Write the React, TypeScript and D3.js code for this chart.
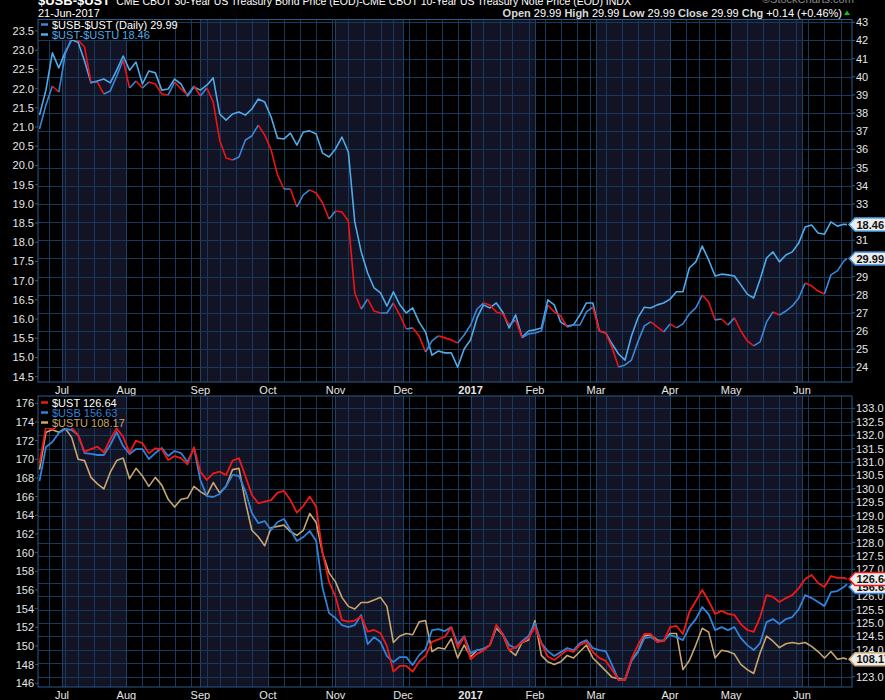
import React from "react";
import * as d3 from "d3";

// ---------- calendar ----------
const HOLIDAYS = ["2016-07-04", "2016-09-05", "2016-11-24", "2016-12-26", "2017-01-02", "2017-01-16", "2017-02-20", "2017-04-14", "2017-05-29"];
const START_DATE = "2016-06-22";
const END_DATE = "2017-06-21";
const monthLabels = ["Jul", "Aug", "Sep", "Oct", "Nov", "Dec", "2017", "Feb", "Mar", "Apr", "May", "Jun"];
const shadedMonths = [6, 8, 10, 0, 2, 4];

// ---------- tick labels ----------
const topLeftTicks = [14.5, 15.0, 15.5, 16.0, 16.5, 17.0, 17.5, 18.0, 18.5, 19.0, 19.5, 20.0, 20.5, 21.0, 21.5, 22.0, 22.5, 23.0, 23.5];
const topRightTicks = [24, 25, 26, 27, 28, 29, 30, 31, 32, 33, 34, 35, 36, 37, 38, 39, 40, 41, 42, 43];
const botLeftTicks = [146, 148, 150, 152, 154, 156, 158, 160, 162, 164, 166, 168, 170, 172, 174, 176];
const botRightTicks = [123.0, 123.5, 124.0, 124.5, 125.0, 125.5, 126.0, 126.5, 127.0, 127.5, 128.0, 128.5, 129.0, 129.5, 130.0, 130.5, 131.0, 131.5, 132.0, 132.5, 133.0];

// ---------- series (every 2nd trading day, last = final day) ----------
const usbUst = [37.12, 38.45, 39.49, 39.16, 41.25, 42.14, 42.03, 41.64, 39.71, 39.71,
  39.05, 39.22, 40.04, 40.92, 39.38, 39.77, 39.38, 39.71, 39.60, 39.05,
  39.00, 39.71, 39.33, 39.00, 39.49, 38.94, 39.38, 38.61, 36.52, 35.53,
  35.42, 35.58, 36.52, 36.74, 37.34, 36.79, 35.97, 34.59, 33.82, 33.82,
  32.83, 33.49, 33.77, 33.60, 33.05, 32.17, 32.61, 32.55, 32.06, 28.09,
  27.21, 27.76, 27.10, 26.99, 26.99, 27.54, 26.88, 26.11, 26.17, 25.73,
  24.84, 25.45, 25.73, 25.62, 25.51, 25.34, 25.78, 26.33, 27.21, 27.54,
  27.43, 27.05, 26.94, 26.33, 26.61, 25.62, 25.84, 25.89, 26.00, 27.43,
  27.05, 26.83, 26.22, 26.33, 26.33, 27.05, 27.32, 26.00, 25.89, 25.07,
  24.02, 24.13, 24.40, 25.40, 26.28, 26.50, 26.22, 25.95, 26.39, 26.17,
  26.39, 26.94, 27.27, 27.98, 27.60, 26.61, 26.66, 26.33, 26.72, 26.00,
  25.45, 25.18, 25.40, 26.50, 27.05, 26.88, 27.10, 27.38, 27.82, 28.64,
  28.48, 28.20, 28.04, 29.09, 29.31, 29.85, 29.99];

const ustUstu = [21.31, 21.96, 22.93, 22.54, 22.95, 23.27, 23.21, 22.72, 22.15, 22.20,
  22.25, 22.15, 22.48, 22.85, 22.48, 22.69, 22.12, 22.46, 22.41, 21.96,
  21.99, 22.25, 22.12, 21.81, 22.04, 21.96, 22.09, 22.28, 21.34, 21.18,
  21.34, 21.39, 21.31, 21.47, 21.73, 21.65, 21.26, 20.71, 20.69, 20.84,
  20.53, 20.87, 20.90, 20.82, 20.32, 20.22, 20.43, 20.74, 20.35, 18.53,
  17.75, 17.20, 16.81, 16.68, 16.34, 16.71, 16.37, 16.16, 16.29, 15.92,
  15.66, 15.06, 15.17, 15.12, 15.12, 14.75, 15.22, 15.46, 16.03, 16.37,
  16.29, 16.42, 16.18, 15.77, 16.11, 15.53, 15.69, 15.72, 15.77, 16.50,
  16.37, 15.92, 15.82, 15.85, 16.11, 16.42, 16.42, 15.69, 15.64, 15.35,
  15.09, 14.93, 15.56, 16.03, 16.31, 16.29, 16.37, 16.42, 16.52, 16.71,
  16.71, 17.33, 17.49, 17.90, 17.54, 17.12, 17.17, 17.15, 17.12, 16.89,
  16.65, 16.55, 17.04, 17.59, 17.75, 17.49, 17.67, 17.75, 17.98, 18.40,
  18.45, 18.24, 18.21, 18.53, 18.42, 18.47, 18.46];

const ust = [130.95, 132.29, 132.22, 132.34, 132.45, 132.27, 132.01, 131.38, 131.48, 131.57,
  131.36, 131.85, 132.25, 131.94, 131.35, 131.79, 131.70, 131.32, 131.51, 131.48,
  131.07, 131.22, 131.14, 130.91, 131.55, 130.64, 130.33, 130.58, 130.64, 130.51,
  131.05, 131.14, 130.48, 129.77, 129.46, 129.52, 129.58, 129.86, 129.92, 129.58,
  129.11, 129.36, 129.71, 129.33, 127.60, 126.54, 125.98, 125.11, 125.05, 125.09,
  125.24, 124.68, 124.74, 124.62, 124.14, 123.19, 123.40, 123.40, 123.19, 123.56,
  123.77, 124.30, 124.39, 124.49, 124.84, 124.07, 124.49, 123.65, 123.85, 123.97,
  124.18, 124.93, 124.59, 123.99, 124.10, 124.27, 124.43, 124.86, 124.24, 123.75,
  123.62, 123.81, 123.99, 123.92, 124.18, 124.29, 123.92, 123.70, 123.59, 123.25,
  122.88, 122.88, 123.66, 124.18, 124.59, 124.59, 124.29, 124.33, 124.85, 124.89,
  124.59, 125.41, 125.82, 126.23, 125.82, 125.34, 125.45, 125.34, 125.30, 124.96,
  124.74, 124.67, 125.22, 126.04, 125.97, 125.78, 125.93, 126.04, 126.30, 126.64,
  126.79, 126.49, 126.34, 126.75, 126.68, 126.68, 126.64];

const usb = [167.67, 171.32, 171.85, 172.82, 173.25, 173.14, 172.60, 170.67, 170.57, 170.46,
  170.46, 171.53, 172.92, 171.42, 170.57, 171.10, 171.10, 170.03, 170.67, 171.21,
  170.35, 170.89, 170.67, 169.71, 171.21, 167.78, 166.06, 165.96, 166.28, 167.14,
  168.32, 168.21, 166.60, 164.24, 163.17, 163.38, 162.42, 163.28, 163.60, 162.42,
  161.24, 161.67, 162.31, 161.24, 156.20, 153.52, 152.99, 152.24, 152.02, 152.24,
  153.31, 150.20, 150.95, 150.42, 148.92, 148.27, 148.81, 148.81, 147.95, 149.02,
  149.67, 151.70, 151.81, 151.60, 152.02, 150.20, 151.06, 149.24, 149.56, 149.67,
  150.09, 152.13, 151.27, 150.09, 149.77, 150.52, 151.06, 152.45, 150.31, 149.45,
  148.92, 149.34, 149.77, 149.56, 150.31, 150.63, 149.77, 149.56, 149.45, 147.95,
  146.34, 146.45, 148.38, 149.34, 150.84, 150.95, 150.52, 150.63, 151.17, 150.95,
  150.63, 152.02, 152.88, 154.17, 153.42, 151.70, 152.02, 151.70, 152.02, 150.84,
  150.09, 149.56, 150.31, 152.56, 152.88, 152.35, 152.88, 153.10, 153.95, 155.45,
  155.13, 154.70, 154.27, 155.77, 155.88, 156.31, 156.63];

const ustu = [109.64, 109.93, 109.95, 109.93, 109.96, 109.89, 109.72, 109.71, 109.58, 109.53,
  109.49, 109.62, 109.71, 109.73, 109.57, 109.65, 109.59, 109.51, 109.58, 109.52,
  109.41, 109.35, 109.41, 109.42, 109.51, 109.47, 109.44, 109.54, 109.46, 109.51,
  109.64, 109.65, 109.39, 109.17, 109.12, 109.05, 109.19, 109.20, 109.21, 109.16,
  109.13, 109.17, 109.30, 109.23, 108.99, 108.84, 108.77, 108.65, 108.58, 108.56,
  108.61, 108.61, 108.63, 108.65, 108.58, 108.30, 108.35, 108.37, 108.36, 108.46,
  108.47, 108.23, 108.26, 108.25, 108.33, 108.18, 108.28, 108.19, 108.24, 108.25,
  108.28, 108.41, 108.36, 108.24, 108.20, 108.30, 108.32, 108.47, 108.20, 108.15,
  108.13, 108.15, 108.20, 108.18, 108.23, 108.28, 108.18, 108.13, 108.08, 108.03,
  108.02, 108.01, 108.16, 108.23, 108.35, 108.36, 108.32, 108.31, 108.37, 108.37,
  108.09, 108.16, 108.28, 108.41, 108.38, 108.18, 108.24, 108.23, 108.21, 108.13,
  108.09, 108.06, 108.22, 108.35, 108.31, 108.26, 108.29, 108.30, 108.29, 108.30,
  108.27, 108.23, 108.18, 108.23, 108.17, 108.18, 108.17];

// ---------- styling ----------
const C = {
  bg: "#000000",
  band: "#131326",
  grid: "#183a5a",
  gridMonth: "#1d4368",
  border: "#2a5a88",
  text: "#e6e6e6",
  mainBlue: "#3a86d8",
  mainRed: "#f21212",
  overlay: "#4faaea",
  ust: "#f21818",
  usb: "#3182d9",
  ustu: "#c9a56f",
};
const FONT = "'Liberation Sans', Arial, sans-serif";

const TOP = { x0: 38, x1: 852, y0: 19.5, y1: 382 };
const BOT = { x0: 38, x1: 852, y0: 396, y1: 687 };

function tradingDays(): Date[] {
  const fmt = d3.timeFormat("%Y-%m-%d");
  const parse = d3.timeParse("%Y-%m-%d");
  const out: Date[] = [];
  const d = parse(START_DATE) as Date;
  const end = parse(END_DATE) as Date;
  while (d <= end) {
    const wd = d.getDay();
    if (wd !== 0 && wd !== 6 && !HOLIDAYS.includes(fmt(d))) out.push(new Date(d));
    d.setDate(d.getDate() + 1);
  }
  return out;
}

function ValueBox({ y, text, border }: { y: number; text: string; border: string }) {
  const h = 6.5;
  const pts = `849,${y} 855,${y - h} 890,${y - h} 890,${y + h} 855,${y + h}`;
  return (
    <g>
      <polygon points={pts} fill="#ececec" stroke={border} strokeWidth={1.5} />
      <text x={856.5} y={y + 4} fontSize={11} fontWeight="bold" fill="#111" fontFamily={FONT}>{text}</text>
    </g>
  );
}

export default function App() {
  const days = tradingDays();
  const n = days.length;
  const x = d3.scaleLinear().domain([0, n - 1]).range([39.5, 847]);
  const sampleIdx = usbUst.map((_, k) => (k === usbUst.length - 1 ? n - 1 : k * 2));

  const yTopR = d3.scaleLinear().domain([24, 43]).range([367.3, 22.3]);
  const yTopL = d3.scaleLinear().domain([14.5, 23.5]).range([376.7, 31]);
  const yBotL = d3.scaleLinear().domain([146, 176]).range([683.3, 403.3]);
  const yBotR = d3.scaleLinear().domain([123, 133]).range([676.7, 408.3]);
  const yUstu = d3.scaleLinear().domain([108, 110]).range([681.2, 423.2]);

  // month & week starts
  const monthStarts: number[] = [];
  const weekStarts: number[] = [];
  for (let i = 1; i < n; i++) {
    if (days[i].getMonth() !== days[i - 1].getMonth()) monthStarts.push(i);
    if (+d3.timeMonday.floor(days[i]) !== +d3.timeMonday.floor(days[i - 1])) weekStarts.push(i);
  }

  const bands = monthStarts.map((i, j) => {
    const xs = x(i);
    const xe = j + 1 < monthStarts.length ? x(monthStarts[j + 1]) : TOP.x1;
    const shaded = shadedMonths.includes(days[i].getMonth());
    return { xs, xe, shaded };
  });

  const lineGen = (ys: d3.ScaleLinear<number, number>, vals: number[]) =>
    d3.line<number>().x((_, k) => x(sampleIdx[k])).y((v) => ys(v))(vals) || "";

  // main line colored by direction
  const runs: { color: string; pts: [number, number][] }[] = [];
  for (let k = 1; k < usbUst.length; k++) {
    const color = usbUst[k] < usbUst[k - 1] ? C.mainRed : C.mainBlue;
    const p0: [number, number] = [x(sampleIdx[k - 1]), yTopR(usbUst[k - 1])];
    const p1: [number, number] = [x(sampleIdx[k]), yTopR(usbUst[k])];
    const last = runs[runs.length - 1];
    if (last && last.color === color) last.pts.push(p1);
    else runs.push({ color, pts: [p0, p1] });
  }
  const pathOf = d3.line<[number, number]>();

  // last-value boxes
  const topBoxes = [
    { y: yTopL(ustUstu[ustUstu.length - 1]), text: "18.46", border: C.overlay },
    { y: yTopR(usbUst[usbUst.length - 1]), text: "29.99", border: C.mainBlue },
  ];
  const botBoxes = [
    { y: yBotL(usb[usb.length - 1]) + 3, text: "156.63", border: C.usb },
    { y: yBotR(ust[ust.length - 1]), text: "126.64", border: C.ust },
    { y: yUstu(ustu[ustu.length - 1]), text: "108.17", border: C.ustu },
  ];
  const freeOf = (boxes: { y: number }[], yy: number) => boxes.every((b) => Math.abs(b.y - yy) > 9);

  const panelBg = (P: typeof TOP, key: string) => (
    <g key={key}>
      {bands.filter((b) => b.shaded).map((b, i) => (
        <rect key={i} x={b.xs} y={P.y0} width={b.xe - b.xs} height={P.y1 - P.y0} fill={C.band} />
      ))}
      {weekStarts.map((i) => (
        <line key={"w" + i} x1={Math.round(x(i)) + 0.5} x2={Math.round(x(i)) + 0.5} y1={P.y0} y2={P.y1} stroke={C.grid} strokeWidth={1} />
      ))}
      {monthStarts.map((i) => (
        <line key={"m" + i} x1={Math.round(x(i)) + 0.5} x2={Math.round(x(i)) + 0.5} y1={P.y0} y2={P.y1} stroke={C.gridMonth} strokeWidth={1} />
      ))}
    </g>
  );

  const xLabels = (yb: number, key: string) => (
    <g key={key}>
      {monthStarts.map((i, j) => (
        <text key={i} x={x(i)} y={yb} textAnchor="middle" fontSize={11} fill={C.text} fontFamily={FONT}
          fontWeight={monthLabels[j] === "2017" ? "bold" : "normal"}>{monthLabels[j]}</text>
      ))}
    </g>
  );

  return (
    <svg width={885} height={700} style={{ position: "absolute", left: 0, top: 0, display: "block" }} fontFamily={FONT}>
      <defs>
        <clipPath id="clipTop"><rect x={TOP.x0} y={TOP.y0} width={TOP.x1 - TOP.x0} height={TOP.y1 - TOP.y0} /></clipPath>
        <clipPath id="clipBot"><rect x={BOT.x0} y={BOT.y0} width={BOT.x1 - BOT.x0} height={BOT.y1 - BOT.y0} /></clipPath>
      </defs>
      <rect x={0} y={0} width={885} height={700} fill={C.bg} />

      {/* header */}
      <text x={762} y={3} fontSize={11} fill="#8a8a8a">©StockCharts.com</text>
      <text x={38} y={5} fill="#ffffff">
        <tspan fontSize={13} fontWeight="bold">$USB-$UST</tspan>
        <tspan fontSize={10.5} dx={6}>CME CBOT 30-Year US Treasury Bond Price (EOD)-CME CBOT 10-Year US Treasury Note Price (EOD) INDX</tspan>
      </text>
      <text x={38} y={16.5} fontSize={11} fill="#ffffff">21-Jun-2017</text>
      <text x={842} y={16.5} fontSize={11} fill="#ffffff" textAnchor="end">
        <tspan fontWeight="bold" fill="#d8d8d8">Open</tspan><tspan> 29.99  </tspan>
        <tspan fontWeight="bold" fill="#d8d8d8">High</tspan><tspan> 29.99  </tspan>
        <tspan fontWeight="bold" fill="#d8d8d8">Low</tspan><tspan> 29.99  </tspan>
        <tspan fontWeight="bold" fill="#d8d8d8">Close</tspan><tspan> 29.99  </tspan>
        <tspan fontWeight="bold" fill="#d8d8d8">Chg</tspan><tspan> +0.14 (+0.46%)</tspan>
      </text>
      <polygon points="844,15 847,10.5 850,15" fill="#12c012" />

      {/* ===== top panel ===== */}
      {panelBg(TOP, "tbg")}
      {topRightTicks.map((t) => (
        <line key={t} x1={TOP.x0} x2={TOP.x1} y1={Math.round(yTopR(t)) + 0.5} y2={Math.round(yTopR(t)) + 0.5} stroke={C.grid} />
      ))}
      <g clipPath="url(#clipTop)">
        <path d={lineGen(yTopL, ustUstu)} fill="none" stroke={C.overlay} strokeWidth={1.6} strokeLinejoin="round" />
        {runs.map((r, i) => (
          <path key={i} d={pathOf(r.pts) || ""} fill="none" stroke={r.color} strokeWidth={1.6} strokeLinejoin="round" />
        ))}
      </g>
      <rect x={TOP.x0} y={TOP.y0} width={TOP.x1 - TOP.x0} height={TOP.y1 - TOP.y0} fill="none" stroke={C.border} strokeWidth={1} />
      {topLeftTicks.map((t) => (
        <g key={t}>
          <line x1={35} x2={38} y1={yTopL(t)} y2={yTopL(t)} stroke={C.border} />
          <text x={34} y={yTopL(t) + 4} fontSize={11} fill={C.text} textAnchor="end">{t.toFixed(1)}</text>
        </g>
      ))}
      {topRightTicks.map((t) => (
        <g key={t}>
          <line x1={852} x2={855} y1={yTopR(t)} y2={yTopR(t)} stroke={C.border} />
          {freeOf(topBoxes, yTopR(t)) && (
            <text x={856} y={yTopR(t) + 4} fontSize={11} fill={C.text}>{t}</text>
          )}
        </g>
      ))}
      {/* top legend */}
      <rect x={39} y={20} width={127} height={20} fill="#000" />
      <line x1={41} x2={48} y1={24.5} y2={24.5} stroke={C.mainBlue} strokeWidth={2.5} />
      <text x={52} y={28.5} fontSize={11} fill="#ffffff">$USB-$UST (Daily) 29.99</text>
      <line x1={41} x2={48} y1={34.5} y2={34.5} stroke={C.overlay} strokeWidth={2.5} />
      <text x={52} y={38.5} fontSize={11} fill={C.overlay}>$UST-$USTU 18.46</text>
      {topBoxes.map((b) => <ValueBox key={b.text} y={b.y} text={b.text} border={b.border} />)}
      {xLabels(394, "xl1")}

      {/* ===== bottom panel ===== */}
      {panelBg(BOT, "bbg")}
      {botRightTicks.map((t) => (
        <line key={t} x1={BOT.x0} x2={BOT.x1} y1={Math.round(yBotR(t)) + 0.5} y2={Math.round(yBotR(t)) + 0.5} stroke={C.grid} />
      ))}
      <g clipPath="url(#clipBot)">
        <path d={lineGen(yUstu, ustu)} fill="none" stroke={C.ustu} strokeWidth={1.6} strokeLinejoin="round" />
        <path d={lineGen(yBotL, usb)} fill="none" stroke={C.usb} strokeWidth={1.8} strokeLinejoin="round" />
        <path d={lineGen(yBotR, ust)} fill="none" stroke={C.ust} strokeWidth={1.8} strokeLinejoin="round" />
      </g>
      <rect x={BOT.x0} y={BOT.y0} width={BOT.x1 - BOT.x0} height={BOT.y1 - BOT.y0} fill="none" stroke={C.border} strokeWidth={1} />
      {botLeftTicks.map((t) => (
        <g key={t}>
          <line x1={35} x2={38} y1={yBotL(t)} y2={yBotL(t)} stroke={C.border} />
          <text x={34} y={yBotL(t) + 4} fontSize={11} fill={C.text} textAnchor="end">{t}</text>
        </g>
      ))}
      {botRightTicks.map((t) => (
        <g key={t}>
          <line x1={852} x2={855} y1={yBotR(t)} y2={yBotR(t)} stroke={C.border} />
          {freeOf(botBoxes, yBotR(t)) && (
            <text x={856} y={yBotR(t) + 4} fontSize={11} fill={C.text}>{t.toFixed(1)}</text>
          )}
        </g>
      ))}
      {/* bottom legend */}
      <rect x={39} y={397} width={76} height={31} fill="#000" />
      <line x1={41} x2={48} y1={402.5} y2={402.5} stroke={C.ust} strokeWidth={2.5} />
      <text x={52} y={406.5} fontSize={11} fill="#ffffff">$UST 126.64</text>
      <line x1={41} x2={48} y1={412.5} y2={412.5} stroke={C.usb} strokeWidth={2.5} />
      <text x={52} y={416.5} fontSize={11} fill={C.usb}>$USB 156.63</text>
      <line x1={41} x2={48} y1={422.5} y2={422.5} stroke={C.ustu} strokeWidth={2.5} />
      <text x={52} y={426.5} fontSize={11} fill={C.ustu}>$USTU 108.17</text>
      {botBoxes.map((b) => <ValueBox key={b.text} y={b.y} text={b.text} border={b.border} />)}
      {xLabels(699, "xl2")}
    </svg>
  );
}
